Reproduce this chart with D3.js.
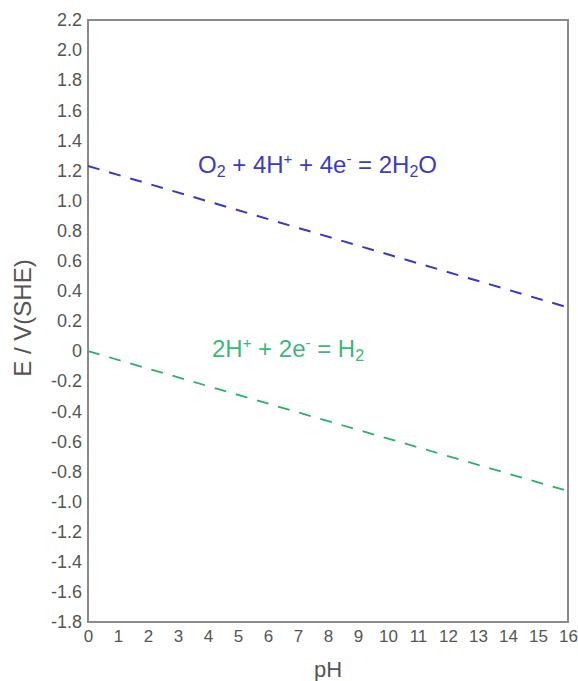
<!DOCTYPE html>
<html>
<head>
<meta charset="utf-8">
<script src="https://cdn.jsdelivr.net/npm/d3@7"></script>
<style>
  body { margin: 0; background: #fff; }
  svg text { font-family: "Liberation Sans", Arial, sans-serif; }
</style>
</head>
<body>
<svg id="chart" width="578" height="681"></svg>
<script>
// data
const pHTicks = d3.range(0, 17);
const eTicks = [2.2, 2.0, 1.8, 1.6, 1.4, 1.2, 1.0, 0.8, 0.6, 0.4, 0.2, 0, -0.2, -0.4, -0.6, -0.8, -1.0, -1.2, -1.4, -1.6, -1.8];
const oxygenLine = [{ pH: 0, e: 1.23 }, { pH: 16, e: 0.29 }];
const hydrogenLine = [{ pH: 0, e: 0 }, { pH: 16, e: -0.93 }];

const margin = { top: 20, right: 10, bottom: 59, left: 88 };
const width = 578 - margin.left - margin.right;
const height = 681 - margin.top - margin.bottom;

const svg = d3.select('#chart');
const g = svg.append('g').attr('transform', `translate(${margin.left},${margin.top})`);

const x = d3.scaleLinear().domain([0, 16]).range([0, width]);
const y = d3.scaleLinear().domain([-1.8, 2.2]).range([height, 0]);

// plain hyphen for negatives, like the original
const fmt = v => v === 0 ? '0' : (v < 0 ? '-' : '') + d3.format('.1f')(Math.abs(v));

// axes (labels only, no tick marks)
const xAxis = g.append('g')
  .attr('transform', `translate(0,${height})`)
  .call(d3.axisBottom(x).tickValues(pHTicks).tickSize(0).tickPadding(8));
const yAxis = g.append('g')
  .call(d3.axisLeft(y).tickValues(eTicks).tickFormat(fmt).tickSize(0).tickPadding(6));

[xAxis, yAxis].forEach(a => {
  a.select('.domain').remove();
  a.selectAll('text').attr('fill', '#555');
});
xAxis.selectAll('text').style('font-size', '17px');
yAxis.selectAll('text').style('font-size', '18px');

// frame
g.append('rect')
  .attr('width', width)
  .attr('height', height)
  .attr('fill', 'none')
  .attr('stroke', '#8a8a8a')
  .attr('stroke-width', 2);

// reaction lines
const line = d3.line().x(d => x(d.pH)).y(d => y(d.e));

g.append('path')
  .datum(oxygenLine)
  .attr('d', line)
  .attr('fill', 'none')
  .attr('stroke', '#3838c4')
  .attr('stroke-width', 2)
  .attr('stroke-dasharray', '12,10');

g.append('path')
  .datum(hydrogenLine)
  .attr('d', line)
  .attr('fill', 'none')
  .attr('stroke', '#2eaf6c')
  .attr('stroke-width', 1.8)
  .attr('stroke-dasharray', '12,10');

// equation labels
const sub = (t, s) => t.append('tspan').text(s).attr('dy', 4).style('font-size', '16px');
const sup = (t, s) => t.append('tspan').text(s).attr('dy', -9).style('font-size', '15px');

const o2 = svg.append('text')
  .attr('x', 198).attr('y', 173)
  .attr('fill', '#3b3bc4')
  .style('font-size', '24px');
o2.append('tspan').text('O');
sub(o2, '2');
o2.append('tspan').text(' + 4H').attr('dy', -4);
sup(o2, '+');
o2.append('tspan').text(' + 4e').attr('dy', 9);
sup(o2, '-');
o2.append('tspan').text(' = 2H').attr('dy', 9);
sub(o2, '2');
o2.append('tspan').text('O').attr('dy', -4);

const h2 = svg.append('text')
  .attr('x', 212).attr('y', 357)
  .attr('fill', '#3cb878')
  .style('font-size', '24px');
h2.append('tspan').text('2H');
sup(h2, '+');
h2.append('tspan').text(' + 2e').attr('dy', 9);
sup(h2, '-');
h2.append('tspan').text(' = H').attr('dy', 9);
sub(h2, '2');

// axis titles
svg.append('text')
  .attr('x', margin.left + width / 2)
  .attr('y', 677)
  .attr('text-anchor', 'middle')
  .attr('fill', '#555')
  .style('font-size', '22px')
  .text('pH');

svg.append('text')
  .attr('transform', `translate(31,318) rotate(-90)`)
  .attr('text-anchor', 'middle')
  .attr('fill', '#555')
  .style('font-size', '24px')
  .text('E / V(SHE)');
</script>
</body>
</html>
